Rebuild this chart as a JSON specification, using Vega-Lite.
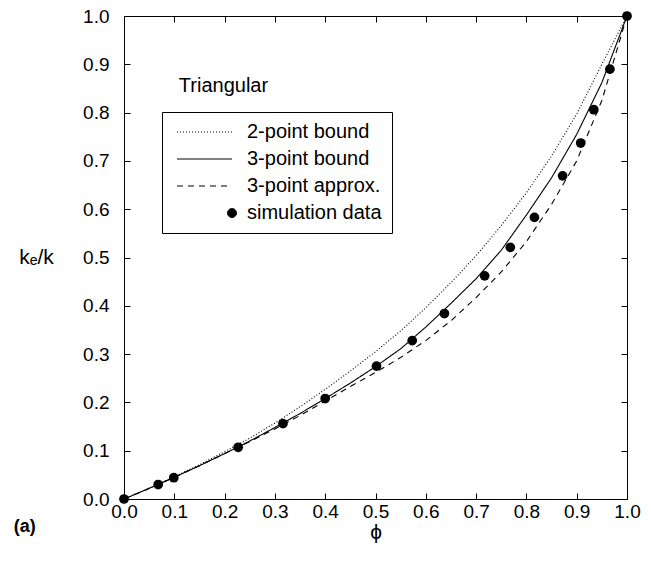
{
  "$schema": "https://vega.github.io/schema/vega-lite/v6.json",
  "width": 503,
  "height": 483,
  "autosize": {"type": "none"},
  "padding": {"left": 124, "top": 16, "right": 24, "bottom": 64},
  "background": "white",
  "config": {
    "font": "Liberation Sans",
    "view": {"stroke": "black", "strokeWidth": 1},
    "axis": {
      "grid": false,
      "domainColor": "black",
      "tickColor": "black",
      "labelColor": "black",
      "titleColor": "black",
      "labelFontSize": 19,
      "labelFont": "Liberation Sans",
      "titleFont": "Liberation Sans",
      "tickSize": -6,
      "labelFlush": false,
      "labelOverlap": false
    }
  },
  "title": {"text": "(a)", "orient": "bottom", "anchor": "start", "frame": "bounds", "fontSize": 18, "fontWeight": "bold", "offset": -24, "dx": -5, "color": "black", "font": "Liberation Sans"},
  "data": {
    "values": [
      {"phi": 0, "k": 0, "series": "2-point bound"},
      {"phi": 0.05, "k": 0.022, "series": "2-point bound"},
      {"phi": 0.1, "k": 0.046, "series": "2-point bound"},
      {"phi": 0.15, "k": 0.071, "series": "2-point bound"},
      {"phi": 0.2, "k": 0.098, "series": "2-point bound"},
      {"phi": 0.25, "k": 0.126, "series": "2-point bound"},
      {"phi": 0.3, "k": 0.157, "series": "2-point bound"},
      {"phi": 0.35, "k": 0.191, "series": "2-point bound"},
      {"phi": 0.4, "k": 0.227, "series": "2-point bound"},
      {"phi": 0.45, "k": 0.265, "series": "2-point bound"},
      {"phi": 0.5, "k": 0.305, "series": "2-point bound"},
      {"phi": 0.55, "k": 0.348, "series": "2-point bound"},
      {"phi": 0.6, "k": 0.396, "series": "2-point bound"},
      {"phi": 0.65, "k": 0.448, "series": "2-point bound"},
      {"phi": 0.7, "k": 0.504, "series": "2-point bound"},
      {"phi": 0.75, "k": 0.566, "series": "2-point bound"},
      {"phi": 0.8, "k": 0.634, "series": "2-point bound"},
      {"phi": 0.85, "k": 0.71, "series": "2-point bound"},
      {"phi": 0.9, "k": 0.797, "series": "2-point bound"},
      {"phi": 0.95, "k": 0.9, "series": "2-point bound"},
      {"phi": 1, "k": 1, "series": "2-point bound"},
      {"phi": 0, "k": 0, "series": "3-point bound"},
      {"phi": 0.05, "k": 0.022, "series": "3-point bound"},
      {"phi": 0.1, "k": 0.045, "series": "3-point bound"},
      {"phi": 0.15, "k": 0.069, "series": "3-point bound"},
      {"phi": 0.2, "k": 0.094, "series": "3-point bound"},
      {"phi": 0.25, "k": 0.12, "series": "3-point bound"},
      {"phi": 0.3, "k": 0.148, "series": "3-point bound"},
      {"phi": 0.35, "k": 0.177, "series": "3-point bound"},
      {"phi": 0.4, "k": 0.208, "series": "3-point bound"},
      {"phi": 0.45, "k": 0.24, "series": "3-point bound"},
      {"phi": 0.5, "k": 0.274, "series": "3-point bound"},
      {"phi": 0.55, "k": 0.311, "series": "3-point bound"},
      {"phi": 0.6, "k": 0.356, "series": "3-point bound"},
      {"phi": 0.65, "k": 0.405, "series": "3-point bound"},
      {"phi": 0.7, "k": 0.456, "series": "3-point bound"},
      {"phi": 0.75, "k": 0.515, "series": "3-point bound"},
      {"phi": 0.8, "k": 0.588, "series": "3-point bound"},
      {"phi": 0.85, "k": 0.665, "series": "3-point bound"},
      {"phi": 0.9, "k": 0.755, "series": "3-point bound"},
      {"phi": 0.95, "k": 0.862, "series": "3-point bound"},
      {"phi": 1, "k": 1, "series": "3-point bound"},
      {"phi": 0, "k": 0, "series": "3-point approx."},
      {"phi": 0.05, "k": 0.022, "series": "3-point approx."},
      {"phi": 0.1, "k": 0.045, "series": "3-point approx."},
      {"phi": 0.15, "k": 0.069, "series": "3-point approx."},
      {"phi": 0.2, "k": 0.094, "series": "3-point approx."},
      {"phi": 0.25, "k": 0.119, "series": "3-point approx."},
      {"phi": 0.3, "k": 0.145, "series": "3-point approx."},
      {"phi": 0.35, "k": 0.173, "series": "3-point approx."},
      {"phi": 0.4, "k": 0.203, "series": "3-point approx."},
      {"phi": 0.45, "k": 0.233, "series": "3-point approx."},
      {"phi": 0.5, "k": 0.262, "series": "3-point approx."},
      {"phi": 0.55, "k": 0.293, "series": "3-point approx."},
      {"phi": 0.6, "k": 0.328, "series": "3-point approx."},
      {"phi": 0.65, "k": 0.369, "series": "3-point approx."},
      {"phi": 0.7, "k": 0.417, "series": "3-point approx."},
      {"phi": 0.75, "k": 0.47, "series": "3-point approx."},
      {"phi": 0.8, "k": 0.533, "series": "3-point approx."},
      {"phi": 0.85, "k": 0.61, "series": "3-point approx."},
      {"phi": 0.9, "k": 0.7, "series": "3-point approx."},
      {"phi": 0.95, "k": 0.825, "series": "3-point approx."},
      {"phi": 1, "k": 1, "series": "3-point approx."},
      {"phi": 0, "k": 0, "series": "simulation data"},
      {"phi": 0.068, "k": 0.03, "series": "simulation data"},
      {"phi": 0.099, "k": 0.044, "series": "simulation data"},
      {"phi": 0.227, "k": 0.107, "series": "simulation data"},
      {"phi": 0.316, "k": 0.156, "series": "simulation data"},
      {"phi": 0.4, "k": 0.208, "series": "simulation data"},
      {"phi": 0.502, "k": 0.275, "series": "simulation data"},
      {"phi": 0.573, "k": 0.328, "series": "simulation data"},
      {"phi": 0.637, "k": 0.384, "series": "simulation data"},
      {"phi": 0.717, "k": 0.462, "series": "simulation data"},
      {"phi": 0.768, "k": 0.521, "series": "simulation data"},
      {"phi": 0.816, "k": 0.583, "series": "simulation data"},
      {"phi": 0.872, "k": 0.669, "series": "simulation data"},
      {"phi": 0.908, "k": 0.737, "series": "simulation data"},
      {"phi": 0.934, "k": 0.806, "series": "simulation data"},
      {"phi": 0.966, "k": 0.89, "series": "simulation data"},
      {"phi": 1, "k": 1, "series": "simulation data"}
    ]
  },
  "layer": [
    {
      "transform": [{"filter": "datum.series !== 'simulation data'"}],
      "mark": {"type": "line", "color": "black", "strokeWidth": 1.1},
      "encoding": {
        "x": {
          "field": "phi", "type": "quantitative",
          "scale": {"domain": [0, 1], "nice": false},
          "axis": {"orient": "bottom", "values": [0, 0.1, 0.2, 0.3, 0.4, 0.5, 0.6, 0.7, 0.8, 0.9, 1], "format": ".1f", "title": "ϕ", "titleFontSize": 21, "titleFontWeight": "normal", "labelPadding": 9, "titlePadding": 0}
        },
        "y": {
          "field": "k", "type": "quantitative",
          "scale": {"domain": [0, 1], "nice": false},
          "axis": {"orient": "left", "values": [0, 0.1, 0.2, 0.3, 0.4, 0.5, 0.6, 0.7, 0.8, 0.9, 1], "format": ".1f", "title": "kₑ/k", "titleAngle": 0, "titleAlign": "center", "titleBaseline": "middle", "titleX": -88, "titleY": 241, "titleFontSize": 21, "titleFontWeight": "normal", "labelPadding": 21}
        },
        "strokeDash": {
          "field": "series", "type": "nominal",
          "scale": {"domain": ["2-point bound", "3-point bound", "3-point approx.", "simulation data"], "range": [[1, 2], [1, 0], [6, 5], [1, 0]]},
          "legend": {
            "orient": "none", "legendX": 38, "legendY": 96, "title": null,
            "strokeColor": "black", "fillColor": "white", "padding": 10,
            "labelFontSize": 20, "labelFont": "Liberation Sans", "labelColor": "black",
            "symbolSize": 100, "symbolStrokeWidth": 1, "symbolStrokeColor": "black",
            "labelOffset": 55, "rowPadding": 7,
            "encoding": {
              "symbols": {
                "shape": {"condition": {"test": "datum.value === 'simulation data'", "value": "M10.9,0A0.9,0.9 0 1,1 9.1,0A0.9,0.9 0 1,1 10.9,0Z"}, "value": "M-1,0H10"},
                "fill": {"condition": {"test": "datum.value === 'simulation data'", "value": "black"}, "value": "transparent"},
                "stroke": {"value": "black"}
              }
            }
          }
        }
      }
    },
    {
      "transform": [{"filter": "datum.series === 'simulation data'"}],
      "mark": {"type": "point", "filled": true, "shape": "circle", "color": "black", "size": 95, "opacity": 1},
      "encoding": {
        "x": {"field": "phi", "type": "quantitative", "axis": {"orient": "top", "values": [0, 0.1, 0.2, 0.3, 0.4, 0.5, 0.6, 0.7, 0.8, 0.9, 1], "labels": false, "title": null}},
        "y": {"field": "k", "type": "quantitative", "axis": {"orient": "right", "values": [0, 0.1, 0.2, 0.3, 0.4, 0.5, 0.6, 0.7, 0.8, 0.9, 1], "labels": false, "title": null}}
      }
    },
    {
      "data": {"values": [{"label": "Triangular"}]},
      "mark": {"type": "text", "align": "left", "baseline": "alphabetic", "fontSize": 20, "font": "Liberation Sans", "color": "black"},
      "encoding": {
        "x": {"datum": 0.109, "type": "quantitative", "axis": null},
        "y": {"datum": 0.843, "type": "quantitative", "axis": null},
        "text": {"field": "label"}
      }
    }
  ],
  "resolve": {"axis": {"x": "independent", "y": "independent"}}
}
